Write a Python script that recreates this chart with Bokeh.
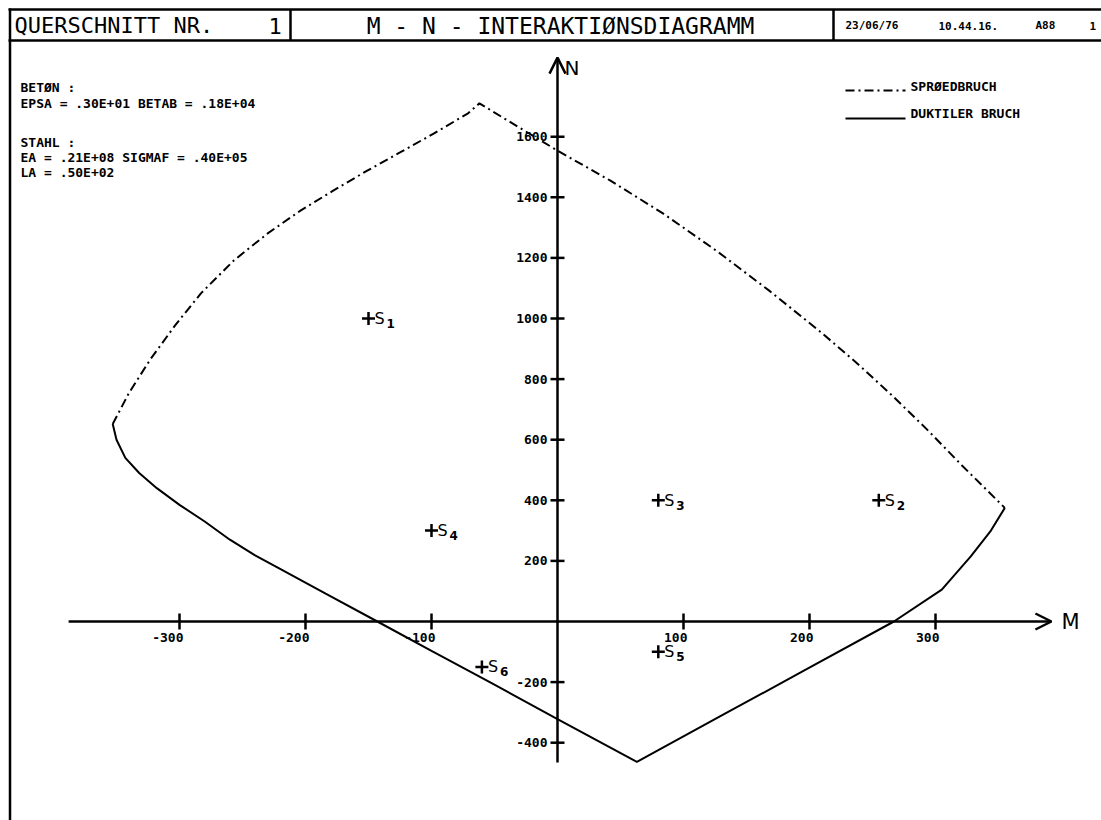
from bokeh.plotting import figure
from bokeh.models import Range1d, Arrow, OpenHead
from bokeh.core.properties import value
from bokeh.embed import file_html
from bokeh.resources import INLINE

# ---------------- data ----------------
brittle_m = [-353, -340, -323, -303, -283, -257, -230, -204, -178, -151, -125, -98, -71, -62,
             0, 42, 84, 126, 168, 209, 237, 265, 293, 321, 355]
brittle_n = [652, 755, 866, 980, 1083, 1191, 1281, 1356, 1422, 1488, 1548, 1611, 1677, 1710,
             1554, 1455, 1346, 1224, 1092, 955, 855, 748, 635, 515, 375]
ductile_m = [-353, -350, -343, -332, -318, -300, -280, -260, -240, -222, -184, -143, -100, -53, 0, 63,
             130, 193, 267, 305, 328, 344, 355]
ductile_n = [652, 600, 540, 490, 440, 385, 330, 270, 218, 178, 92, 0, -97, -202, -322, -463,
             -311, -168, 0, 105, 215, 300, 375]

point_m = [-150, 255, 80, -100, 80, -60]
point_n = [1000, 400, 400, 300, -100, -150]
point_name = ["S", "S", "S", "S", "S", "S"]
point_sub = ["1", "2", "3", "4", "5", "6"]

m_ticks = [-300, -200, -100, 100, 200, 300]
m_tick_labels = ["-300", "-200", "-100", "100", "200", "300"]
n_ticks = [-400, -200, 200, 400, 600, 800, 1000, 1200, 1400, 1600]
n_tick_labels = ["-400", "-200", "200", "400", "600", "800", "1000", "1200", "1400", "1600"]

m_axis_extent = [-388, 392]
n_axis_extent = [-465, 1861]

legend_labels = ["SPRØEDBRUCH", "DUKTILER BRUCH"]
header_left = ["QUERSCHNITT NR.", "1"]
header_title = "M - N - INTERAKTIØNSDIAGRAMM"
header_right = ["23/06/76", "10.44.16.", "A88", "1"]
info_lines = ["BETØN :", "EPSA = .30E+01 BETAB = .18E+04", "STAHL :",
              "EA = .21E+08  SIGMAF = .40E+05", "LA  = .50E+02"]

# ---------------- layout ----------------
W, H = 1101, 820
X0, SX = 557.0, 1.26    # page px of M=0, px per unit of M
Y0, SY = 621.0, 0.303   # page px of N=0, px per unit of N


def mx(px):
    return (px - X0) / SX


def ny(py):
    return (Y0 - py) / SY


p = figure(width=W, height=H,
           x_range=Range1d(mx(0), mx(W)), y_range=Range1d(ny(H), ny(0)),
           x_axis_location=None, y_axis_location=None,
           output_backend="svg", toolbar_location=None, min_border=0)
p.grid.visible = False
p.outline_line_color = None
p.background_fill_color = "white"
p.border_fill_color = "white"

MONO = value("DejaVu Sans Mono")

# ---------------- frame / header ----------------
p.segment(x0=[mx(8), mx(8), mx(9.5), mx(290), mx(833)],
          y0=[ny(9), ny(40), ny(8), ny(9), ny(9)],
          x1=[mx(1101), mx(1101), mx(9.5), mx(290), mx(833)],
          y1=[ny(9), ny(40), ny(820), ny(40), ny(40)],
          line_color="black", line_width=2.5)

p.text(x=[mx(14), mx(268)], y=[ny(25), ny(25)], text=header_left,
       text_font=MONO, text_font_size="22px", text_baseline="middle", text_align="left",
       text_color="black")
p.text(x=[mx(560)], y=[ny(25)], text=[header_title],
       text_font=MONO, text_font_size="23px", text_baseline="middle", text_align="center",
       text_color="black")
p.text(x=[mx(845), mx(938), mx(1035), mx(1089)], y=[ny(25)] * 4, text=header_right,
       text_font=MONO, text_font_size="11px", text_font_style="bold",
       text_baseline="middle", text_align="left", text_color="black")

# ---------------- info block ----------------
p.text(x=[mx(20)] * 5, y=[ny(87), ny(103), ny(142), ny(157), ny(172)], text=info_lines,
       text_font=MONO, text_font_size="13px", text_font_style="bold",
       text_baseline="middle", text_align="left", text_color="black")

# ---------------- legend ----------------
p.line([mx(845), mx(905)], [ny(90), ny(90)], line_color="black", line_width=2,
       line_dash="9 4 2 4")
p.line([mx(845), mx(905)], [ny(118), ny(118)], line_color="black", line_width=2)
p.text(x=[mx(910), mx(910)], y=[ny(86), ny(113)], text=legend_labels,
       text_font=MONO, text_font_size="13px", text_font_style="bold",
       text_baseline="middle", text_align="left", text_color="black")

# ---------------- axes ----------------
p.add_layout(Arrow(end=OpenHead(size=16, line_width=2.5, line_color="black"),
                   x_start=m_axis_extent[0], y_start=0, x_end=m_axis_extent[1], y_end=0,
                   line_width=2.5, line_color="black"))
p.add_layout(Arrow(end=OpenHead(size=16, line_width=2.5, line_color="black"),
                   x_start=0, y_start=n_axis_extent[0], x_end=0, y_end=n_axis_extent[1],
                   line_width=2.5, line_color="black"))

tick_dm = 7 / SX
tick_dn = 8 / SY
p.segment(x0=m_ticks, y0=[tick_dn] * len(m_ticks), x1=m_ticks, y1=[-tick_dn] * len(m_ticks),
          line_color="black", line_width=2.5)
p.segment(x0=[-tick_dm] * len(n_ticks), y0=n_ticks, x1=[tick_dm] * len(n_ticks), y1=n_ticks,
          line_color="black", line_width=2.5)

p.text(x=m_ticks, y=[0] * len(m_ticks), text=m_tick_labels, x_offset=4, y_offset=11,
       text_font=MONO, text_font_size="13px", text_font_style="bold",
       text_baseline="top", text_align="right", text_color="black")
p.text(x=[0] * len(n_ticks), y=n_ticks, text=n_tick_labels, x_offset=-10, y_offset=0,
       text_font=MONO, text_font_size="13px", text_font_style="bold",
       text_baseline="middle", text_align="right", text_color="black")

p.text(x=[m_axis_extent[1]], y=[0], text=["M"], x_offset=10,
       text_font=value("DejaVu Sans"), text_font_size="21px",
       text_baseline="middle", text_align="left", text_color="black")
p.text(x=[0], y=[n_axis_extent[1]], text=["N"], x_offset=7, y_offset=10,
       text_font=value("DejaVu Sans"), text_font_size="20px",
       text_baseline="middle", text_align="left", text_color="black")

# ---------------- curves ----------------
p.line(brittle_m, brittle_n, line_color="black", line_width=2, line_dash="9 4 2 4")
p.line(ductile_m, ductile_n, line_color="black", line_width=2)

# ---------------- load points ----------------
p.scatter(point_m, point_n, marker="cross", size=13, line_width=2.5, line_color="black")
p.text(x=point_m, y=point_n, text=point_name, x_offset=6, y_offset=0,
       text_font=value("DejaVu Sans"), text_font_size="16px",
       text_baseline="middle", text_align="left", text_color="black")
p.text(x=point_m, y=point_n, text=point_sub, x_offset=18, y_offset=5,
       text_font=value("DejaVu Sans"), text_font_size="12px", text_font_style="bold",
       text_baseline="middle", text_align="left", text_color="black")

open("out.html", "w").write(file_html(p, INLINE))
